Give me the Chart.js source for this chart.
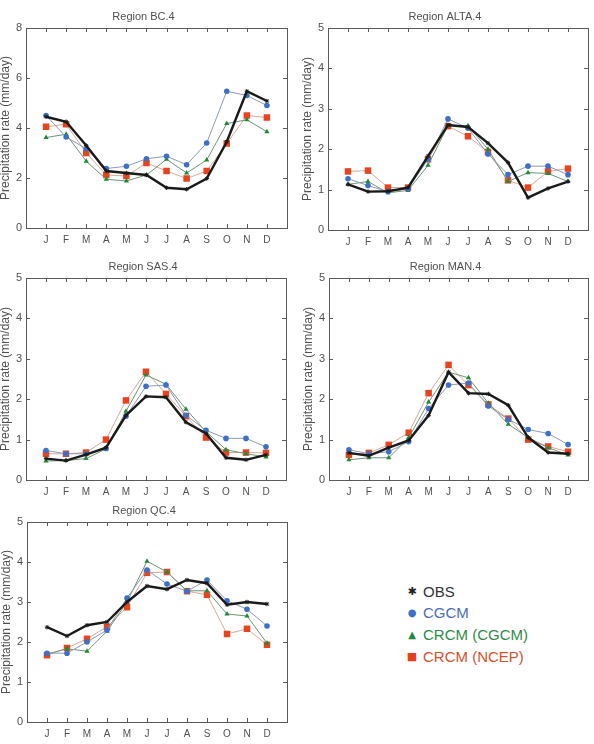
<!DOCTYPE html>
<html>
<head>
<meta charset="utf-8">
<script src="https://cdn.jsdelivr.net/npm/chart.js@4"></script>
<style>
  html, body { margin: 0; padding: 0; background: #fff; }
  body { width: 594px; height: 744px; position: relative; overflow: hidden; font-family: "Liberation Sans", Arial, sans-serif; }
  canvas { position: absolute; }
  .lg { position: absolute; height: 20px; line-height: 20px; font-size: 15px; white-space: nowrap; }
  .lg .m { position: absolute; left: 0; width: 14px; text-align: center; font-family: "DejaVu Sans", sans-serif; }
  .lg .t { position: absolute; left: 18px; }
</style>
</head>
<body>
<canvas id="cBC" width="293" height="250" style="left:0px;top:0px;width:293px;height:250px"></canvas>
<canvas id="cALTA" width="292" height="252" style="left:302px;top:0px;width:292px;height:252px"></canvas>
<canvas id="cSAS" width="292" height="252" style="left:0px;top:250px;width:292px;height:252px"></canvas>
<canvas id="cMAN" width="291" height="252" style="left:303px;top:250px;width:291px;height:252px"></canvas>
<canvas id="cQC" width="292" height="250" style="left:1px;top:494px;width:292px;height:250px"></canvas>

<div class="lg" style="left:405px;top:582px;"><span class="m" style="color:#222;font-size:11px;">✱</span><span class="t" style="color:#333;">OBS</span></div>
<div class="lg" style="left:405px;top:603px;"><span class="m" style="color:#3d6fc8;font-size:10px;">●</span><span class="t" style="color:#4a6db8;">CGCM</span></div>
<div class="lg" style="left:405px;top:625px;"><span class="m" style="color:#238a3a;font-size:10px;">▲</span><span class="t" style="color:#2e8a48;">CRCM (CGCM)</span></div>
<div class="lg" style="left:405px;top:647px;"><span class="m" style="color:#e5401e;font-size:11px;">■</span><span class="t" style="color:#d4522c;">CRCM (NCEP)</span></div>

<script>
// ---- tick labels / categories ----
const months = ['J','F','M','A','M','J','J','A','S','O','N','D'];
const seriesNames = ['OBS','CGCM','CRCM (CGCM)','CRCM (NCEP)'];

// ---- Region BC.4 ----
const bcObs       = [4.45, 4.25, 3.30, 2.28, 2.20, 2.12, 1.61, 1.55, 1.98, 3.45, 5.47, 5.08];
const bcCgcm      = [4.50, 3.64, 3.17, 2.38, 2.47, 2.77, 2.87, 2.53, 3.40, 5.47, 5.30, 4.90];
const bcCrcmCgcm  = [3.62, 3.75, 2.67, 1.95, 1.88, 2.12, 2.75, 2.20, 2.72, 4.18, 4.33, 3.85];
const bcCrcmNcep  = [4.05, 4.15, 3.00, 2.12, 2.08, 2.60, 2.28, 1.98, 2.28, 3.38, 4.50, 4.42];

// ---- Region ALTA.4 ----
const altaObs      = [1.13, 0.95, 0.96, 1.05, 1.83, 2.60, 2.55, 2.15, 1.67, 0.80, 1.03, 1.20];
const altaCgcm     = [1.27, 1.10, 0.95, 1.02, 1.75, 2.75, 2.52, 1.88, 1.37, 1.58, 1.58, 1.37];
const altaCrcmCgcm = [1.13, 1.20, 0.92, 0.98, 1.60, 2.58, 2.58, 2.00, 1.20, 1.42, 1.40, 1.20];
const altaCrcmNcep = [1.45, 1.47, 1.05, 1.05, 1.75, 2.57, 2.32, 1.93, 1.23, 1.05, 1.45, 1.52];

// ---- Region SAS.4 ----
const sasObs      = [0.53, 0.48, 0.63, 0.80, 1.60, 2.07, 2.05, 1.43, 1.15, 0.55, 0.50, 0.62];
const sasCgcm     = [0.73, 0.65, 0.65, 0.78, 1.58, 2.32, 2.35, 1.60, 1.23, 1.03, 1.03, 0.82];
const sasCrcmCgcm = [0.47, 0.48, 0.53, 0.77, 1.70, 2.60, 2.37, 1.75, 1.20, 0.75, 0.65, 0.57];
const sasCrcmNcep = [0.65, 0.65, 0.68, 1.00, 1.97, 2.68, 2.13, 1.58, 1.05, 0.68, 0.68, 0.67];

// ---- Region MAN.4 ----
const manObs      = [0.67, 0.60, 0.80, 0.98, 1.60, 2.67, 2.15, 2.13, 1.85, 1.05, 0.68, 0.65];
const manCgcm     = [0.75, 0.65, 0.70, 0.95, 1.77, 2.35, 2.40, 1.83, 1.50, 1.25, 1.15, 0.88];
const manCrcmCgcm = [0.50, 0.55, 0.55, 1.05, 1.93, 2.67, 2.53, 1.90, 1.38, 1.05, 0.80, 0.62];
const manCrcmNcep = [0.62, 0.67, 0.87, 1.17, 2.15, 2.85, 2.35, 1.87, 1.52, 1.00, 0.83, 0.70];

// ---- Region QC.4 ----
const qcObs      = [2.37, 2.15, 2.42, 2.50, 3.00, 3.40, 3.32, 3.55, 3.47, 2.93, 3.00, 2.95];
const qcCgcm     = [1.72, 1.72, 2.00, 2.30, 3.10, 3.80, 3.45, 3.27, 3.55, 3.03, 2.82, 2.40];
const qcCrcmCgcm = [1.70, 1.83, 1.77, 2.27, 3.00, 4.02, 3.75, 3.28, 3.28, 2.70, 2.65, 1.97];
const qcCrcmNcep = [1.67, 1.85, 2.08, 2.38, 2.87, 3.73, 3.75, 3.27, 3.18, 2.20, 2.33, 1.93];

const TEXT = '#505050';
const FRAME = '#5a5a5a';

const framePlugin = {
  id: 'frame',
  beforeDatasetsDraw(chart) {
    const {ctx, chartArea: a, scales} = chart;
    ctx.save();
    ctx.strokeStyle = FRAME;
    ctx.lineWidth = 1;
    ctx.strokeRect(Math.round(a.left) + 0.5, Math.round(a.top) + 0.5,
                   Math.round(a.right - a.left), Math.round(a.bottom - a.top));
    const L = 4;
    ctx.beginPath();
    scales.y.ticks.forEach(t => {
      const y = Math.round(scales.y.getPixelForValue(t.value)) + 0.5;
      ctx.moveTo(a.left, y); ctx.lineTo(a.left + L, y);
      ctx.moveTo(a.right, y); ctx.lineTo(a.right - L, y);
    });
    scales.x.ticks.forEach(t => {
      if (t.value < 1 || t.value > months.length) return;
      const x = Math.round(scales.x.getPixelForValue(t.value)) + 0.5;
      ctx.moveTo(x, a.bottom); ctx.lineTo(x, a.bottom - L);
      ctx.moveTo(x, a.top); ctx.lineTo(x, a.top + L);
    });
    ctx.stroke();
    ctx.restore();
  }
};

function pts(arr) { return arr.map((v, i) => ({x: i + 1, y: v})); }

function makeChart(id, title, yMax, yStep, obs, cgcm, crcmCgcm, crcmNcep) {
  const datasets = [
    { label: seriesNames[3], data: pts(crcmNcep), borderColor: '#d8a898', borderWidth: 1,
      pointStyle: 'rect', pointRadius: 4.6, pointBackgroundColor: '#e8431f', pointBorderColor: '#e8431f', pointBorderWidth: 0, order: 4 },
    { label: seriesNames[2], data: pts(crcmCgcm), borderColor: '#6f9478', borderWidth: 1,
      pointStyle: 'triangle', pointRadius: 3, pointBackgroundColor: '#1f8a35', pointBorderColor: '#1f8a35', pointBorderWidth: 0, order: 3 },
    { label: seriesNames[1], data: pts(cgcm), borderColor: '#8d9bb3', borderWidth: 1,
      pointStyle: 'circle', pointRadius: 2.8, pointBackgroundColor: '#3d6fc8', pointBorderColor: '#3d6fc8', pointBorderWidth: 0, order: 2 },
    { label: seriesNames[0], data: pts(obs), borderColor: '#1a1a1a', borderWidth: 2.4,
      pointStyle: 'star', pointRadius: 2.2, pointBackgroundColor: '#1a1a1a', pointBorderColor: '#1a1a1a', pointBorderWidth: 1, order: 1 }
  ];
  return new Chart(document.getElementById(id), {
    type: 'line',
    data: { datasets },
    options: {
      responsive: false,
      devicePixelRatio: 1,
      animation: false,
      layout: { padding: { left: 0, right: 6, top: 0, bottom: 0 }, autoPadding: false },
      elements: { line: { tension: 0 } },
      plugins: {
        legend: { display: false },
        tooltip: { enabled: false },
        title: {
          display: true, text: title, color: TEXT,
          font: { family: 'Liberation Sans', size: 11, weight: 'normal', lineHeight: '14px' },
          padding: { top: 10, bottom: 4 }
        }
      },
      scales: {
        x: {
          type: 'linear', min: 0, max: months.length + 1,
          grid: { display: false, drawTicks: false },
          border: { display: false },
          ticks: {
            stepSize: 1, autoSkip: false, maxRotation: 0, padding: 6, color: TEXT,
            font: { family: 'Liberation Sans', size: 10 },
            callback: v => (v >= 1 && v <= months.length) ? months[v - 1] : ''
          },
          afterFit: s => { s.height = 22; }
        },
        y: {
          min: 0, max: yMax,
          grid: { display: false, drawTicks: false },
          border: { display: false },
          ticks: { stepSize: yStep, padding: 4, color: TEXT, font: { family: 'Liberation Sans', size: 11 } },
          title: {
            display: true, text: 'Precipitation rate (mm/day)', color: TEXT,
            font: { family: 'Liberation Sans', size: 12, weight: 'normal', lineHeight: '12px' },
            padding: 0
          },
          afterFit: s => { s.width = 26; }
        }
      }
    },
    plugins: [framePlugin]
  });
}

makeChart('cBC',   'Region BC.4',   8, 2, bcObs,   bcCgcm,   bcCrcmCgcm,   bcCrcmNcep);
makeChart('cALTA', 'Region ALTA.4', 5, 1, altaObs, altaCgcm, altaCrcmCgcm, altaCrcmNcep);
makeChart('cSAS',  'Region SAS.4',  5, 1, sasObs,  sasCgcm,  sasCrcmCgcm,  sasCrcmNcep);
makeChart('cMAN',  'Region MAN.4',  5, 1, manObs,  manCgcm,  manCrcmCgcm,  manCrcmNcep);
makeChart('cQC',   'Region QC.4',   5, 1, qcObs,   qcCgcm,   qcCrcmCgcm,   qcCrcmNcep);
</script>
</body>
</html>
